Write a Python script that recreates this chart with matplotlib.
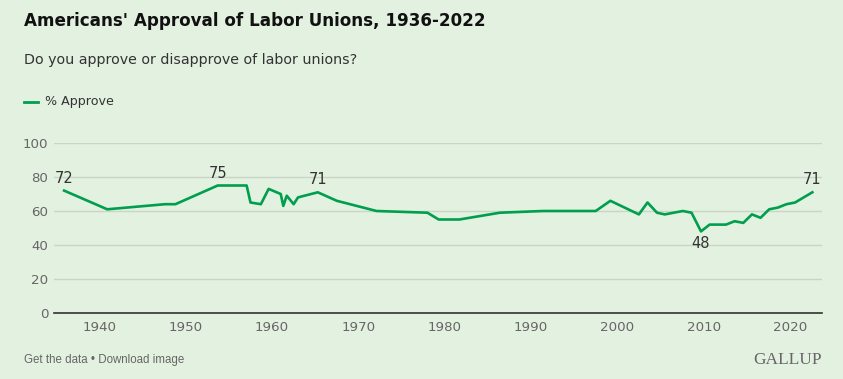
import matplotlib
matplotlib.use("Agg")
import matplotlib.pyplot as plt

# poll dates (fractional year) and % approve
years = [1935.9, 1940.9, 1947.6, 1948.8, 1953.7, 1957.05, 1957.5, 1958.7, 1959.1,
         1959.6, 1961.0, 1961.3, 1961.7, 1962.5, 1963.0, 1965.3, 1967.5, 1972.1,
         1978.0, 1979.3, 1981.7, 1986.4, 1991.4, 1997.5, 1999.2, 2002.5, 2003.5,
         2004.6, 2005.5, 2007.6, 2008.6, 2009.7, 2010.7, 2012.6, 2013.6, 2014.6,
         2015.6, 2016.6, 2017.6, 2018.6, 2019.6, 2020.6, 2021.6, 2022.6]
approve = [72, 61, 64, 64, 75, 75, 65, 64, 68,
           73, 70, 63, 69, 64, 68, 71, 66, 60,
           59, 55, 55, 59, 60, 60, 66, 58, 65,
           59, 58, 60, 59, 48, 52, 52, 54, 53,
           58, 56, 61, 62, 64, 65, 68, 71]
# labelled points: index into the series, above/below
labels = [(0, "above"), (4, "above"), (15, "above"), (31, "below"), (43, "above")]
yticks = [0, 20, 40, 60, 80, 100]
xticks = [1940, 1950, 1960, 1970, 1980, 1990, 2000, 2010, 2020]

BG = "#e3f1e0"
GREEN = "#009e4f"
GREY = "#666666"

fig = plt.figure(figsize=(8.43, 3.79), dpi=100, facecolor=BG)
ax = fig.add_axes([54 / 843, 1 - 313 / 379, (822 - 54) / 843, (313 - 143) / 379])
ax.set_facecolor(BG)

ax.plot(years, approve, color=GREEN, lw=1.9, zorder=3)

for i, pos in labels:
    off = (0, 3.5) if pos == "above" else (0, -3)
    va = "bottom" if pos == "above" else "top"
    ax.annotate(str(approve[i]), (years[i], approve[i]), textcoords="offset points",
                xytext=off, ha="center", va=va, fontsize=10.5, color="#333333")

ax.set_xlim(1934.73, 2023.72)
ax.set_ylim(0, 100)
ax.set_yticks(yticks)
ax.set_xticks(xticks)
ax.grid(axis="y", color="#c9d6c6", lw=1)
ax.set_axisbelow(True)
for s in ["top", "right", "left"]:
    ax.spines[s].set_visible(False)
ax.spines["bottom"].set_color("#333333")
ax.spines["bottom"].set_linewidth(1.2)
ax.tick_params(axis="both", length=0, labelsize=9.6, labelcolor=GREY)
ax.tick_params(axis="y", pad=4)
ax.tick_params(axis="x", pad=6)

fig.text(24 / 843, 1 - 21 / 379, "Americans' Approval of Labor Unions, 1936-2022",
         fontsize=12.1, fontweight="bold", color="#111111", va="center")
fig.text(24 / 843, 1 - 60 / 379, "Do you approve or disapprove of labor unions?",
         fontsize=10.3, color="#333333", va="center")
fig.add_artist(plt.Line2D([24 / 843, 38 / 843], [1 - 102 / 379] * 2, color=GREEN, lw=2))
fig.text(45 / 843, 1 - 102 / 379, "% Approve", fontsize=9.1, color="#333333", va="center")

fig.text(24 / 843, 1 - 360 / 379, "Get the data \u2022 Download image", fontsize=8.3,
         color=GREY, va="center", family=["Liberation Sans Narrow", "Liberation Sans", "DejaVu Sans"])
fig.text(822 / 843, 1 - 360 / 379, "GALLUP", fontsize=12.5, color=GREY, va="center",
         ha="right", family=["Liberation Serif", "DejaVu Serif"])

fig.savefig("out.png", dpi=100, facecolor=BG)
